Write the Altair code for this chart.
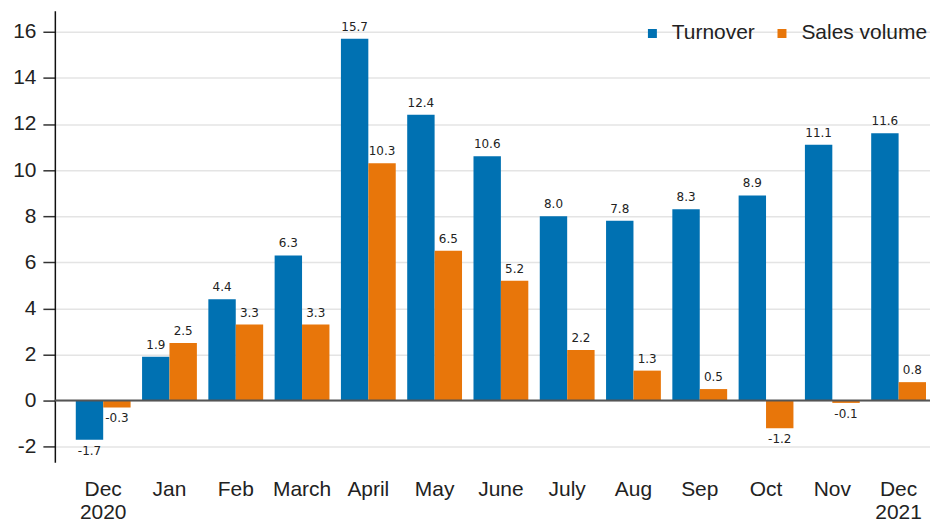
import altair as alt
import pandas as pd

months = ["Dec 2020", "Jan", "Feb", "March", "April", "May", "June",
          "July", "Aug", "Sep", "Oct", "Nov", "Dec 2021"]
turnover = [-1.7, 1.9, 4.4, 6.3, 15.7, 12.4, 10.6, 8.0, 7.8, 8.3, 8.9, 11.1, 11.6]
sales_volume = [-0.3, 2.5, 3.3, 3.3, 10.3, 6.5, 5.2, 2.2, 1.3, 0.5, -1.2, -0.1, 0.8]
series_names = ["Turnover", "Sales volume"]
colors = ["#0071B2", "#E8760A"]
y_ticks = [-2, 0, 2, 4, 6, 8, 10, 12, 14, 16]

rows = []
for m, t, s in zip(months, turnover, sales_volume):
    rows.append({"month": m, "series": "Turnover", "value": t, "label": f"{t:.1f}"})
    rows.append({"month": m, "series": "Sales volume", "value": s, "label": f"{s:.1f}"})
df = pd.DataFrame(rows)

FONT = "Liberation Sans"

x = alt.X("month:N", sort=months, title=None,
          scale=alt.Scale(paddingInner=0.173, paddingOuter=0.188, align=0.84),
          axis=alt.Axis(labelAngle=0, domain=False, ticks=False, grid=False,
                        labelExpr="split(datum.label, ' ')",
                        labelFontSize=21, labelFont=FONT, labelColor="#222",
                        labelPadding=16, labelLineHeight=23))
xo = alt.XOffset("series:N", sort=series_names)
y = alt.Y("value:Q", title=None,
          scale=alt.Scale(domain=[-2.68, 16.91], nice=False, zero=False),
          axis=alt.Axis(values=y_ticks, grid=True, gridColor="#e4e4e4", gridWidth=1.5,
                        domainColor="#111", domainWidth=1.5,
                        tickColor="#333", tickSize=12, tickWidth=1.5,
                        labelExpr="'' + datum.value",
                        labelFontSize=21, labelFont=FONT, labelColor="#222",
                        labelPadding=7))

base = alt.Chart(df)

bars = base.mark_bar().encode(
    x=x, xOffset=xo, y=y,
    color=alt.Color("series:N", sort=series_names,
                    scale=alt.Scale(domain=series_names, range=colors),
                    legend=alt.Legend(title=None, orient="none", legendX=589, legendY=12,
                                      direction="horizontal", symbolType="square",
                                      symbolSize=81, symbolStrokeWidth=0,
                                      labelFontSize=21, labelFont=FONT, labelColor="#222",
                                      labelOffset=9, columnPadding=16)),
)

tpos = base.transform_filter("datum.value >= 0").mark_text(
    baseline="bottom", dy=-5, fontSize=12, font="DejaVu Sans", color="#222"
).encode(x=x, xOffset=xo, y=y, text="label:N")

tneg = base.transform_filter("datum.value < 0").mark_text(
    baseline="top", dy=6, fontSize=12, font="DejaVu Sans", color="#222"
).encode(x=x, xOffset=xo, y=y, text="label:N")

zero = alt.Chart(pd.DataFrame({"zero": [0]})).mark_rule(color="#555", strokeWidth=2).encode(
    y="zero:Q")

chart = alt.layer(bars, tpos, tneg, zero).properties(
    width=878, height=453,
    padding={"left": 47, "top": 2, "right": 0, "bottom": 61},
    autosize="none",
).configure_view(stroke=None)

chart.save("out.html", embed_options={"renderer": "svg", "actions": False})
